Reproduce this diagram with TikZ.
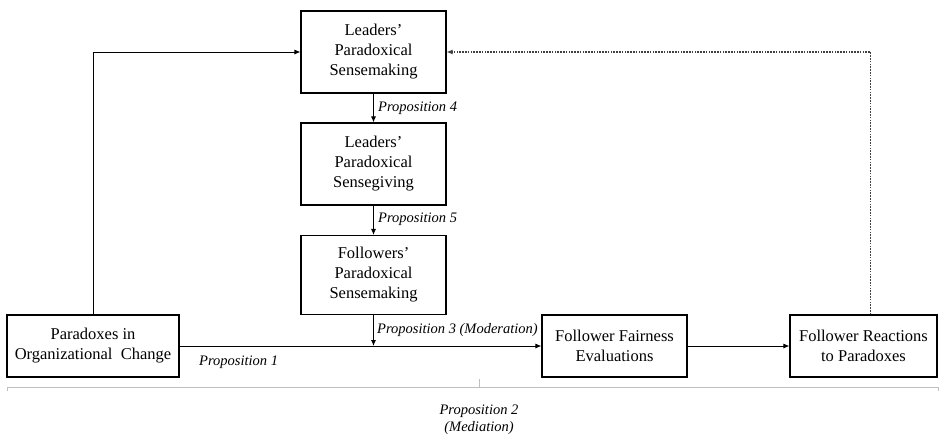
\documentclass[tikz,border=0pt]{standalone}
\usepackage{fontspec}
\setmainfont{Liberation Serif}
\usetikzlibrary{arrows.meta}
\begin{document}
\begin{tikzpicture}[x=1pt,y=-1pt,
  box/.style={draw,line width=1.1pt,align=center,font=\fontsize{16.5}{20}\selectfont,inner sep=0pt},
  conn/.style={line width=0.9pt,-{Latex[length=6pt,width=5pt]}},
  lab/.style={font=\fontsize{14.5}{17}\selectfont\itshape,inner sep=0pt}]
\useasboundingbox (0,0) rectangle (945,440);
\node[box,minimum width=145pt,minimum height=82pt] (ls) at (373.5,52) {Leaders’\\Paradoxical\\Sensemaking};
\node[box,minimum width=145pt,minimum height=82pt] (lg) at (373.5,164) {Leaders’\\Paradoxical\\Sensegiving};
\node[box,minimum width=145pt,minimum height=79pt] (fs) at (373.5,275) {Followers’\\Paradoxical\\Sensemaking};
\node[box,minimum width=172pt,minimum height=62pt] (pc) at (93,346) {Paradoxes in\\Organizational\ \ Change};
\node[box,minimum width=145pt,minimum height=62pt] (fe) at (614.5,346) {Follower Fairness\\Evaluations};
\node[box,minimum width=147pt,minimum height=62pt] (fr) at (863.5,346) {Follower Reactions\\to Paradoxes};
\coordinate (mod) at (373.5,346);
\draw[conn] (ls) -- (lg);
\draw[conn] (lg) -- (fs);
\draw[conn] (pc) -- (fe);
\draw[conn] (fs) -- (mod);
\draw[conn] (fe) -- (fr);
\draw[conn] (pc.north) |- (ls.west);
\draw[conn,dash pattern=on 1.6pt off 1.2pt,black!75,line width=1.1pt] ([xshift=7pt]fr.north) |- (ls.east);
\node[lab,anchor=west] (p4) at (378,108) {Proposition 4};
\node[lab,anchor=west] (p5) at (378,219) {Proposition 5};
\node[lab,anchor=west] (p3) at (377,330) {Proposition 3 (Moderation)};
\node[lab,anchor=west] (p1) at (199,362) {Proposition 1};
\coordinate (bl) at (7,387);
\coordinate (br) at (938,387);
\coordinate (bm) at (479,387);
\draw[gray!50,line width=0.8pt] ([yshift=-4pt]bl) -- (bl) -- (br) -- ([yshift=-4pt]br);
\draw[gray!50,line width=0.8pt] (bm) -- ([yshift=8pt]bm);
\node[lab,align=center] (p2) at (479,420) {Proposition 2\\(Mediation)};
\end{tikzpicture}
\end{document}
